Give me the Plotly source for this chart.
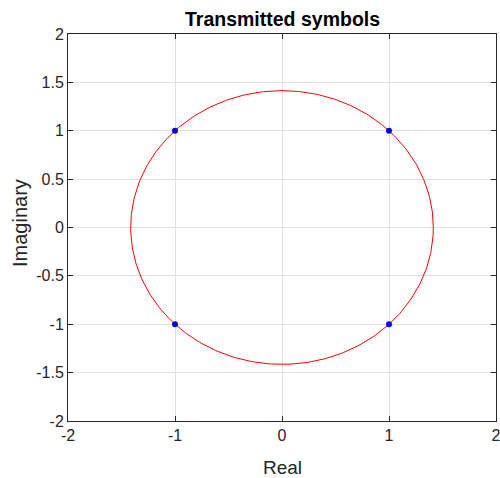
import numpy as np
import plotly.graph_objects as go

# QPSK constellation points
sym_real = [1, -1, -1, 1]
sym_imag = [1, 1, -1, -1]

# Reference circle of radius sqrt(2)
radius = np.sqrt(2)
theta = np.linspace(0, 2 * np.pi, 361)
circ_x = radius * np.cos(theta)
circ_y = radius * np.sin(theta)

tick_vals_x = [-2, -1, 0, 1, 2]
tick_vals_y = [-2, -1.5, -1, -0.5, 0, 0.5, 1, 1.5, 2]

FONT = "Liberation Sans, Arial"
W, H = 500, 478
ML, MR, MT, MB = 68, 4, 34, 57
PW, PH = W - ML - MR, H - MT - MB


def px_to_paper_x(px):
    return (px - ML) / PW


def px_to_paper_y(py):
    return (H - MB - py) / PH


fig = go.Figure()
fig.add_trace(go.Scatter(x=circ_x, y=circ_y, mode="lines",
                         line=dict(color="#ff0000", width=1), hoverinfo="skip"))
fig.add_trace(go.Scatter(x=sym_real, y=sym_imag, mode="markers",
                         marker=dict(color="#0000ff", size=6)))

axis_common = dict(
    showgrid=True, gridcolor="#e0e0e0", gridwidth=1,
    zeroline=False, showline=True, linecolor="#262626", linewidth=1,
    mirror="allticks", ticks="inside", ticklen=5, tickcolor="#262626",
    ticklabeloverflow="allow", automargin=False,
    tickfont=dict(family=FONT, size=16, color="#262626"),
)

fig.update_layout(
    width=W, height=H,
    margin=dict(l=ML, r=MR, t=MT, b=MB, autoexpand=False),
    paper_bgcolor="white", plot_bgcolor="white",
    showlegend=False,
    xaxis=dict(range=[-2, 2], tickvals=tick_vals_x,
               ticktext=[str(v) for v in tick_vals_x], **axis_common),
    yaxis=dict(range=[-2, 2], tickvals=tick_vals_y,
               ticktext=[("%g" % v) for v in tick_vals_y], **axis_common),
    annotations=[
        dict(text="<b>Transmitted symbols</b>", xref="paper", yref="paper",
             x=0.5, y=px_to_paper_y(19), xanchor="center", yanchor="middle",
             showarrow=False,
             font=dict(family=FONT, size=19.5, color="#000000")),
        dict(text="Real", xref="paper", yref="paper",
             x=px_to_paper_x(282), y=px_to_paper_y(467), xanchor="center",
             yanchor="middle", showarrow=False, borderpad=0,
             font=dict(family=FONT, size=19, color="#262626")),
        dict(text="Imaginary", xref="paper", yref="paper",
             x=px_to_paper_x(20), y=px_to_paper_y(223), xanchor="center",
             yanchor="middle", textangle=-90, showarrow=False,
             font=dict(family=FONT, size=20, color="#262626")),
    ],
)

fig.write_html("out.html")
